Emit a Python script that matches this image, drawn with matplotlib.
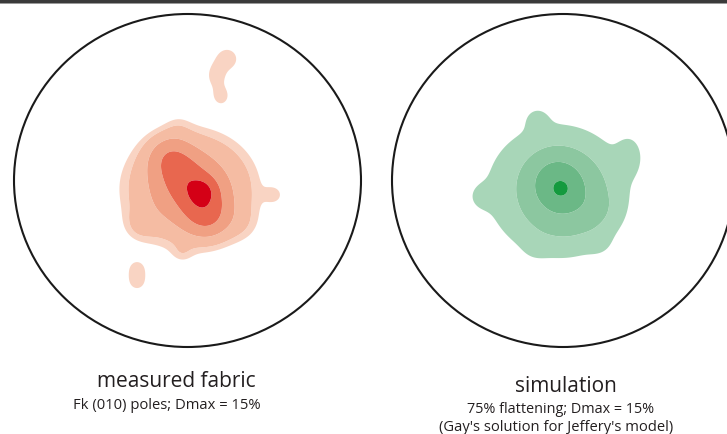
import numpy as np
import matplotlib
matplotlib.use("Agg")
import matplotlib.pyplot as plt
from matplotlib.patches import Ellipse, Rectangle

# ---------------- data (net coordinates, unit = net radius) ----------------
# measured fabric: pole-density clusters
red_u   = [0.014, -0.101, -0.014, 0.072, 0.118, 0.089, 0.510, -0.032, -0.285, -0.055, 0.331]
red_v   = [-0.051, 0.141, 0.009, -0.111, -0.219, -0.063, -0.087, -0.441, -0.279, 0.345, -0.279]
red_su  = [0.300, 0.086, 0.086, 0.086, 0.086, 0.052, 0.046, 0.046, 0.069, 0.058, 0.081]
red_sv  = [0.276, 0.090, 0.090, 0.090, 0.090, 0.054, 0.048, 0.048, 0.072, 0.060, 0.084]
red_amp = [1.00, 0.50, 0.50, 0.50, 0.50, 0.60, 0.20, 0.12, 0.15, 0.08, 0.10]
# minor (isolated) clusters of the measured fabric
red_out_u   = [0.228, 0.164, 0.193, -0.291, -0.291]
red_out_v   = [0.730, 0.628, 0.508, -0.526, -0.610]
red_out_su  = [0.058, 0.040, 0.040, 0.046, 0.046]
red_out_sv  = [0.060, 0.054, 0.048, 0.048, 0.048]
red_out_amp = [0.60, 0.60, 0.60, 0.50, 0.50]
red_levels = [0.40, 0.50, 0.78, 1.20, 1.85]
red_colors = ["#f9d4c3", "#f5bca3", "#f0a083", "#e8674f", "#d40016"]

# simulation: pole-density clusters
green_u   = [-0.053, 0.018, -0.041, -0.012, -0.152, 0.392, -0.485, -0.164, 0.216, 0.205]
green_v   = [-0.045, -0.099, 0.003, -0.051, 0.375, 0.153, -0.099, -0.411, -0.381, -0.183]
green_su  = [0.351, 0.164, 0.105, 0.035, 0.053, 0.053, 0.058, 0.053, 0.053, 0.076]
green_sv  = [0.330, 0.168, 0.108, 0.036, 0.054, 0.084, 0.060, 0.054, 0.054, 0.078]
green_amp = [0.35, 0.50, 0.45, 0.50, 0.10, 0.17, 0.08, 0.04, 0.06, 0.08]
green_levels = [0.20, 0.42, 0.80, 1.40]
green_colors = ["#a8d6b8", "#8cc7a0", "#6bb886", "#149a3e"]

titles    = ["measured fabric", "simulation"]
subtitles = ["Fk (010) poles; Dmax = 15%",
             "75% flattening; Dmax = 15%\n(Gay's solution for Jeffery's model)"]

# ---------------- layout ----------------
W, H = 727, 435
fig = plt.figure(figsize=(W / 100, H / 100), dpi=100)
ax = fig.add_axes([0, 0, 1, 1])
ax.set_xlim(0, W)
ax.set_ylim(H, 0)
ax.axis("off")
fig.patch.set_facecolor("white")

nets = [dict(cx=187.5, cy=181.5, rx=173.5, ry=166.5),
        dict(cx=563.0, cy=181.5, rx=171.0, ry=166.5)]

g = np.linspace(-1.05, 1.05, 500)
U, V = np.meshgrid(g, g)


def density(us, vs, sus, svs, amps):
    F = np.zeros_like(U)
    for u0, v0, su, sv, a in zip(us, vs, sus, svs, amps):
        F += a * np.exp(-0.5 * (((U - u0) / su) ** 2 + ((V - v0) / sv) ** 2))
    return F


def to_px(net):
    return net["cx"] + U * net["rx"], net["cy"] - V * net["ry"]


# measured fabric
X, Y = to_px(nets[0])
F_out = density(red_out_u, red_out_v, red_out_su, red_out_sv, red_out_amp)
ax.contourf(X, Y, F_out, levels=[red_levels[0], 1e3], colors=[red_colors[0]], antialiased=True)
F_red = density(red_u, red_v, red_su, red_sv, red_amp)
ax.contourf(X, Y, F_red, levels=red_levels + [1e3], colors=red_colors, antialiased=True)

# simulation
X, Y = to_px(nets[1])
F_green = density(green_u, green_v, green_su, green_sv, green_amp)
ax.contourf(X, Y, F_green, levels=green_levels + [1e3], colors=green_colors, antialiased=True)

for net in nets:
    ax.add_patch(Ellipse((net["cx"], net["cy"]), 2 * net["rx"], 2 * net["ry"],
                         fill=False, edgecolor="#1a1a1a", lw=1.5, clip_on=True))

# top bar
ax.add_patch(Rectangle((0, 0), W, 4, facecolor="#3a3a3a", edgecolor="none"))
ax.add_patch(Rectangle((0, 4), W, 1, facecolor="#9a9a9a", edgecolor="none"))

font = ["Open Sans", "DejaVu Sans"]
tc = "#231f20"
ax.text(176, 387, titles[0], ha="center", va="baseline", fontsize=15, color=tc, family=font)
ax.text(167, 409, subtitles[0], ha="center", va="baseline", fontsize=10.6, color=tc, family=font)
ax.text(566, 392, titles[1], ha="center", va="baseline", fontsize=15, color=tc, family=font)
s1, s2 = subtitles[1].split("\n")
ax.text(561, 413, s1, ha="center", va="baseline", fontsize=10.4, color=tc, family=font)
ax.text(556, 431, s2, ha="center", va="baseline", fontsize=10.6, color=tc, family=font)

fig.savefig("out.png", dpi=100, facecolor="white")
